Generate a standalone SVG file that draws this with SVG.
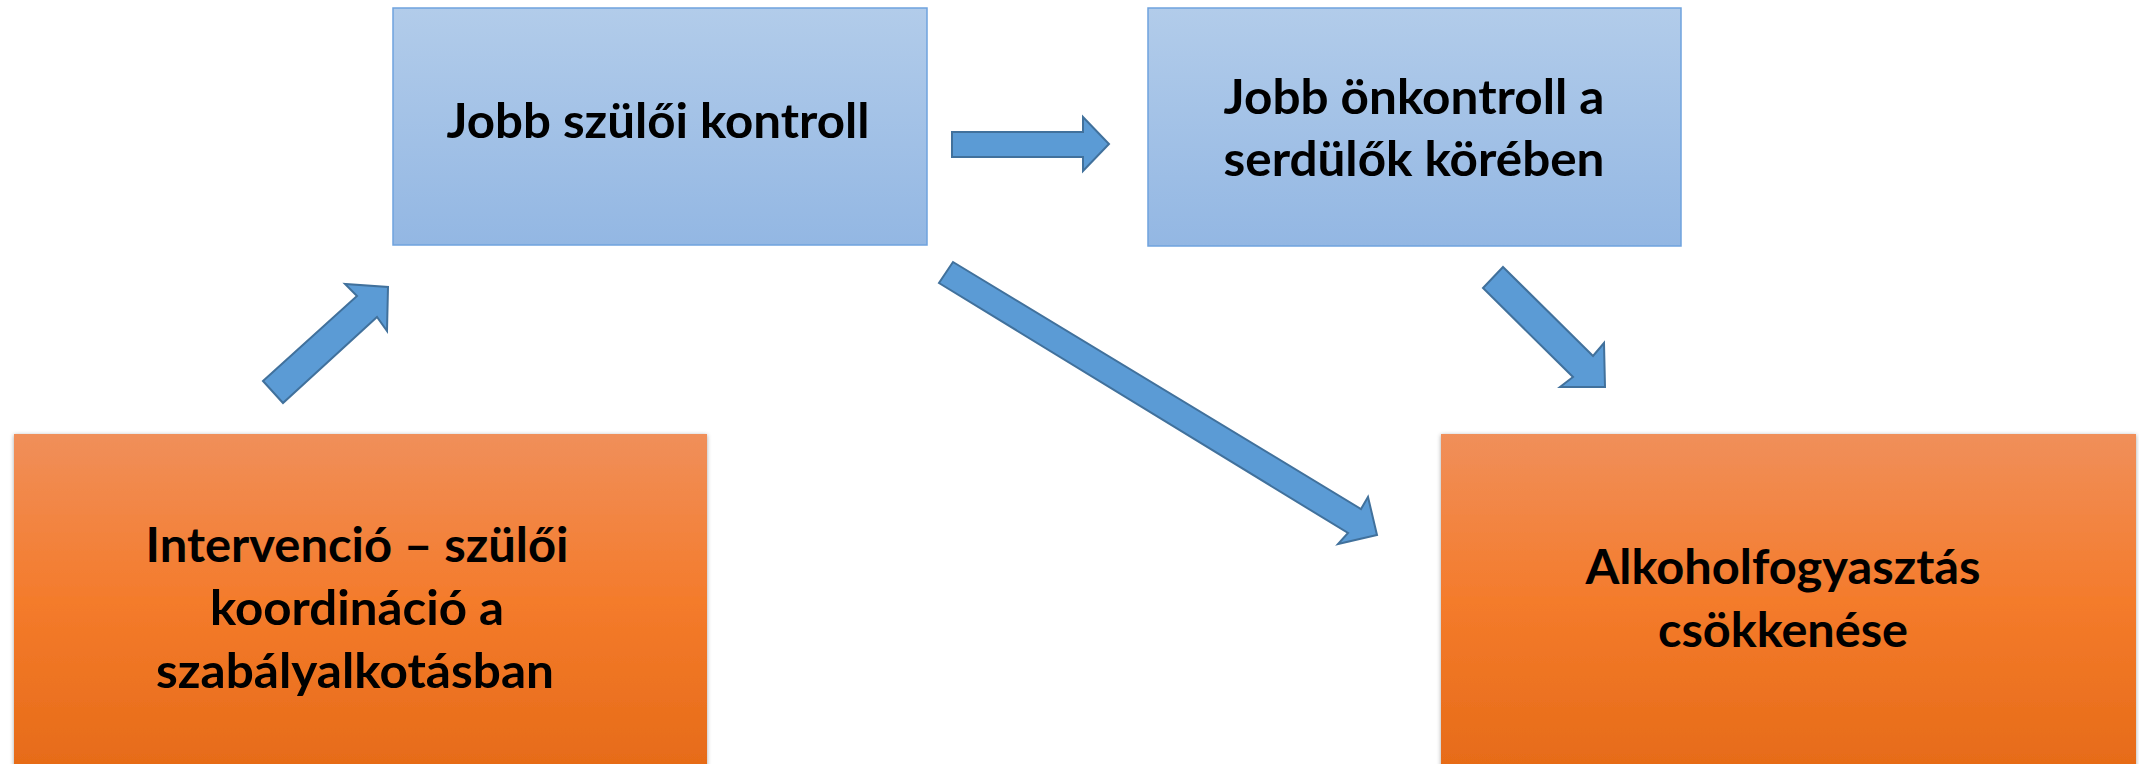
<svg xmlns="http://www.w3.org/2000/svg" width="2139" height="764" viewBox="0 0 2139 764">
<style>
.t{font-family:Lato,"Open Sans","Liberation Sans",sans-serif;font-weight:700;font-size:47px;fill:#000;text-anchor:middle}
.arr{fill:#5B9BD5;stroke:#41719C;stroke-width:2;stroke-linejoin:miter}
.blue{fill:url(#gb);stroke:#6FA3DE;stroke-width:1.5}
.orange{fill:url(#go)}
</style>
<defs>
<linearGradient id="gb" x1="0" y1="0" x2="0" y2="1">
<stop offset="0" stop-color="#B2CCEA"/>
<stop offset="1" stop-color="#93B7E3"/>
</linearGradient>
<linearGradient id="go" x1="0" y1="0" x2="0" y2="1">
<stop offset="0" stop-color="#F08F5A"/>
<stop offset="0.5" stop-color="#F47B2B"/>
<stop offset="1" stop-color="#E66B18"/>
</linearGradient>
<filter id="sh" x="-5%" y="-5%" width="110%" height="110%">
<feGaussianBlur in="SourceAlpha" stdDeviation="2"/>
<feOffset dx="0" dy="1" result="b"/>
<feFlood flood-color="#000" flood-opacity="0.35"/>
<feComposite in2="b" operator="in"/>
<feMerge><feMergeNode/><feMergeNode in="SourceGraphic"/></feMerge>
</filter>
</defs>
<rect width="2139" height="764" fill="#fff"/>
<g id="connectors">
<polygon class="arr" points="952,132 1083,132 1083,117 1109,144 1083,171 1083,157 952,157"/>
<polygon class="arr" points="263,381 357,296 345,284 388,287 387,331 377,317 283,403"/>
<polygon class="arr" points="1503,267 1593,356 1604,343 1605,387 1560,387 1573,377 1483,288"/>
<polygon class="arr" points="953,262 1361,509 1368,497 1377,535 1338,544 1348,533 939,283"/>
</g>
<g id="node-szuloi-kontroll">
<rect class="blue" x="393" y="8" width="534" height="237"/>
<text class="t" x="658" y="138" textLength="423" lengthAdjust="spacingAndGlyphs">Jobb szülői kontroll</text>
</g>
<g id="node-onkontroll">
<rect class="blue" x="1148" y="8" width="533" height="238"/>
<text class="t" x="1414" y="114" textLength="381" lengthAdjust="spacingAndGlyphs">Jobb önkontroll a</text>
<text class="t" x="1414" y="176" textLength="381" lengthAdjust="spacingAndGlyphs">serdülők körében</text>
</g>
<g id="node-intervencio">
<rect class="orange" filter="url(#sh)" x="14" y="434" width="693" height="336"/>
<text class="t" x="357" y="562" textLength="423" lengthAdjust="spacingAndGlyphs">Intervenció – szülői</text>
<text class="t" x="357" y="625" textLength="294" lengthAdjust="spacingAndGlyphs">koordináció a</text>
<text class="t" x="355" y="688" textLength="398" lengthAdjust="spacingAndGlyphs">szabályalkotásban</text>
</g>
<g id="node-alkohol">
<rect class="orange" filter="url(#sh)" x="1441" y="434" width="695" height="336"/>
<text class="t" x="1783" y="584" textLength="395" lengthAdjust="spacingAndGlyphs">Alkoholfogyasztás</text>
<text class="t" x="1783" y="647" textLength="250" lengthAdjust="spacingAndGlyphs">csökkenése</text>
</g>
</svg>
